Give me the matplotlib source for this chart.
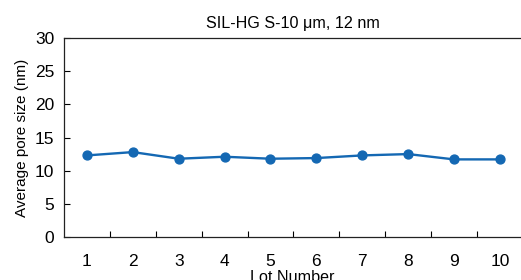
import matplotlib.pyplot as plt
import matplotlib as mpl
import numpy as np

mpl.rcParams["font.family"] = ["Liberation Sans", "DejaVu Sans"]

lots = [1, 2, 3, 4, 5, 6, 7, 8, 9, 10]
pore_size = [12.3, 12.8, 11.8, 12.1, 11.8, 11.9, 12.3, 12.5, 11.7, 11.7]
y_ticks = [0, 5, 10, 15, 20, 25, 30]

C_LINE = "#1468b3"

fig = plt.figure(figsize=(5.21, 2.80), dpi=100)
ax = fig.add_axes([64/521, 1 - 237/280, 1 - 64/521, (237 - 38)/280])

ax.plot(lots, pore_size, color=C_LINE, lw=1.7, marker="o", ms=6.4,
        mec=C_LINE, mfc=C_LINE, clip_on=False)

ax.set_xlim(0.5, 10.46)
ax.set_ylim(0, 30)
ax.set_xticks(lots)
ax.set_xticks(np.arange(1.5, 10, 1.0), minor=True)
ax.set_yticks(y_ticks)
ax.tick_params(axis="x", which="major", length=0, pad=12, labelsize=12.5)
ax.tick_params(axis="x", which="minor", direction="in", length=4, width=0.8)
ax.tick_params(axis="y", direction="in", length=4, width=0.8, pad=7, labelsize=12.5)

for s in ["left", "bottom", "top"]:
    ax.spines[s].set_linewidth(0.9)
    ax.spines[s].set_color("#222")
ax.spines["right"].set_visible(False)

ax.set_title("SIL-HG S-10 μm, 12 nm", fontsize=11.6, pad=7)
ax.set_ylabel("Average pore size (nm)", fontsize=11, labelpad=4)
ax.set_xlabel("Lot Number", fontsize=11.6, labelpad=1)

fig.savefig("out.png", facecolor="white")
